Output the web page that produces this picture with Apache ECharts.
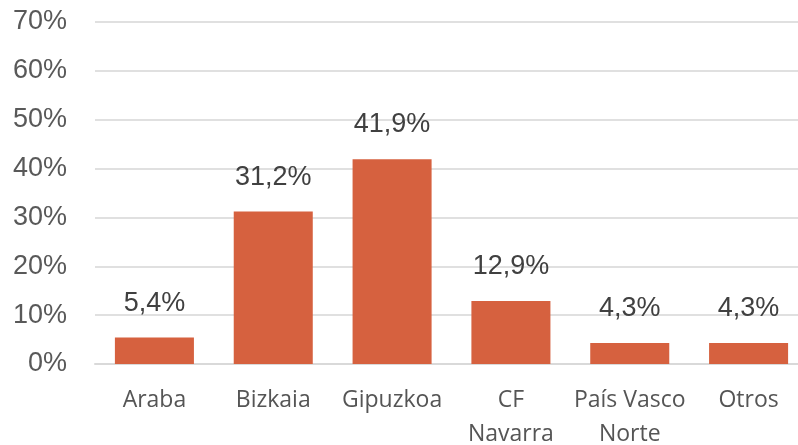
<!DOCTYPE html>
<html><head><meta charset="utf-8">
<script src="https://cdn.jsdelivr.net/npm/echarts@6/dist/echarts.min.js"></script>
<style>html,body{margin:0;padding:0;background:#fff;overflow:hidden}#c{width:810px;height:445px}</style>
</head><body><div id="c"></div>
<script>
const categories = ["Araba", "Bizkaia", "Gipuzkoa", "CF\nNavarra", "País Vasco\nNorte", "Otros"];
const values = [5.4, 31.2, 41.9, 12.9, 4.3, 4.3];
const yTicks = [0, 10, 20, 30, 40, 50, 60, 70];

const chart = echarts.init(document.getElementById('c'), null, {renderer: 'canvas'});
chart.setOption({
  animation: false,
  backgroundColor: '#ffffff',
  grid: {left: 95, top: 22, right: 2, bottom: 81, containLabel: false, outerBoundsMode: 'none'},
  xAxis: {
    type: 'category', data: categories,
    axisLine: {show: true, lineStyle: {color: '#d9d9d9', width: 2}},
    axisTick: {show: false},
    axisLabel: {color: '#555555', fontFamily: 'Open Sans', fontSize: 23, lineHeight: 34, margin: 19, interval: 0}
  },
  yAxis: {
    type: 'value', min: yTicks[0], max: yTicks[yTicks.length - 1], interval: 10,
    axisLine: {show: false}, axisTick: {show: false},
    splitLine: {lineStyle: {color: '#e0e0e0', width: 2}},
    axisLabel: {color: '#595959', fontFamily: 'Liberation Sans', fontSize: 27, margin: 28,
      formatter: v => v + '%'}
  },
  series: [{
    type: 'bar', data: values, barWidth: '66.5%',
    itemStyle: {color: '#d6613f'},
    label: {show: true, position: 'top', distance: 21, color: '#404040',
      fontFamily: 'Liberation Sans', fontSize: 27,
      formatter: p => p.value.toFixed(1).replace('.', ',') + '%'}
  }]
});
</script></body></html>
